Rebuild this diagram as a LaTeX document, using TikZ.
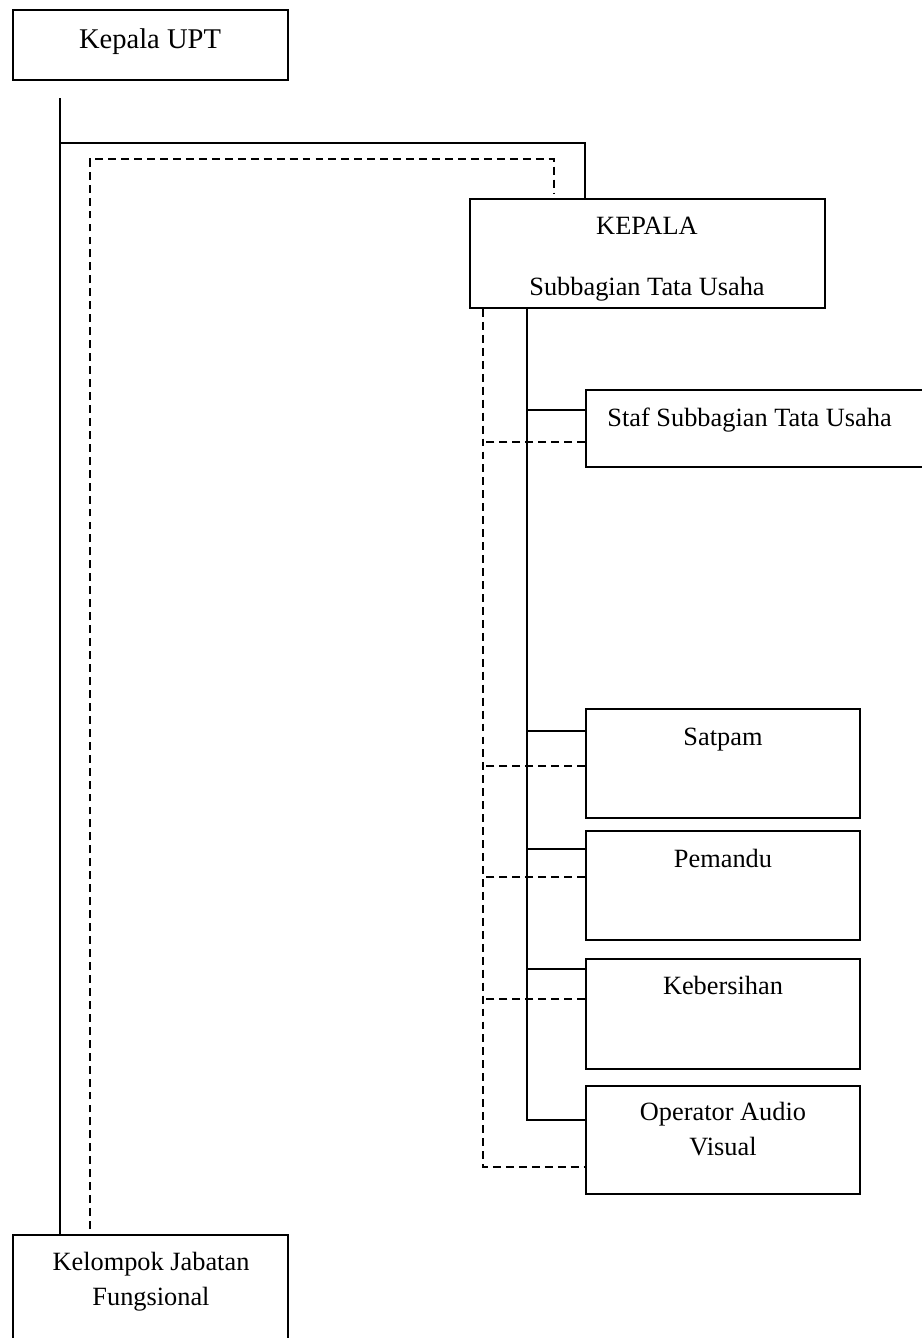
\documentclass[tikz,border=0pt]{standalone}
\usepackage{fontspec}
\setmainfont{Liberation Serif}
\usetikzlibrary{fit, calc}

\begin{document}
\begin{tikzpicture}[
    x=0.016cm, y=-0.016cm,
    box/.style={draw, line width=0.9pt, inner sep=0pt},
    txt/.style={inner sep=0pt, anchor=base, align=center, font=\fontsize{12}{15.9}\selectfont},
    conn/.style={line width=0.8pt},
    dconn/.style={line width=0.8pt, dash pattern=on 3.6pt off 2.3pt}
]
    \clip (0,0) rectangle (922,1338);

    \node[box, fit={(13,10) (288,80)}]       (upt) {};
    \node[box, fit={(470,199) (825,308)}]    (kasubag) {};
    \node[box, fit={(586,390) (940,467)}]    (staf) {};
    \node[box, fit={(586,709) (860,818)}]    (satpam) {};
    \node[box, fit={(586,831) (860,940)}]    (pemandu) {};
    \node[box, fit={(586,959) (860,1069)}]   (kebersihan) {};
    \node[box, fit={(586,1086) (860,1194)}]  (operator) {};
    \node[box, fit={(13,1235) (288,1360)}]   (fungsional) {};

    \node[txt, font=\fontsize{13}{16}\selectfont] (tupt) at (150,48) {Kepala UPT};
    \node[txt] (tkasubag) at (647,295) {KEPALA\\[11.8pt]Subbagian Tata Usaha};
    \node[txt, anchor=base west] (tstaf) at (607,426) {Staf Subbagian Tata Usaha};
    \node[txt] (tsatpam) at (723,745) {Satpam};
    \node[txt] (tpemandu) at (723,867) {Pemandu};
    \node[txt] (tkebersihan) at (723,994) {Kebersihan};
    \node[txt] (toperator) at (723,1155) {Operator Audio\\Visual};
    \node[txt] (tfungsional) at (151,1305) {Kelompok Jabatan\\Fungsional};

    \coordinate (trunk) at (60,98);
    \coordinate (djunc) at (90,1229);
    \coordinate (dend) at (554,193);

    \draw[conn] (trunk) -- (trunk |- fungsional.north);
    \draw[conn] (trunk |- 0,143) -| ($(kasubag.north west)+(116,0)$);
    \draw[dconn] (djunc) |- (554,159) -- (dend);

    \draw[conn] ($(kasubag.south west)+(58,0)$) |- ($(operator.north west)+(0,35)$);
    \draw[dconn] ($(kasubag.south west)+(14,0)$) |- ($(operator.north west)+(0,82)$);
    \foreach \n/\s/\d in {staf/21/53, satpam/23/58, pemandu/19/47, kebersihan/11/41} {
        \draw[conn] ($(\n.north west)+(0,\s)$) -- ++(-58,0);
        \draw[dconn] ($(\n.north west)+(0,\d)$) -- ++(-102,0);
    }
\end{tikzpicture}
\end{document}
